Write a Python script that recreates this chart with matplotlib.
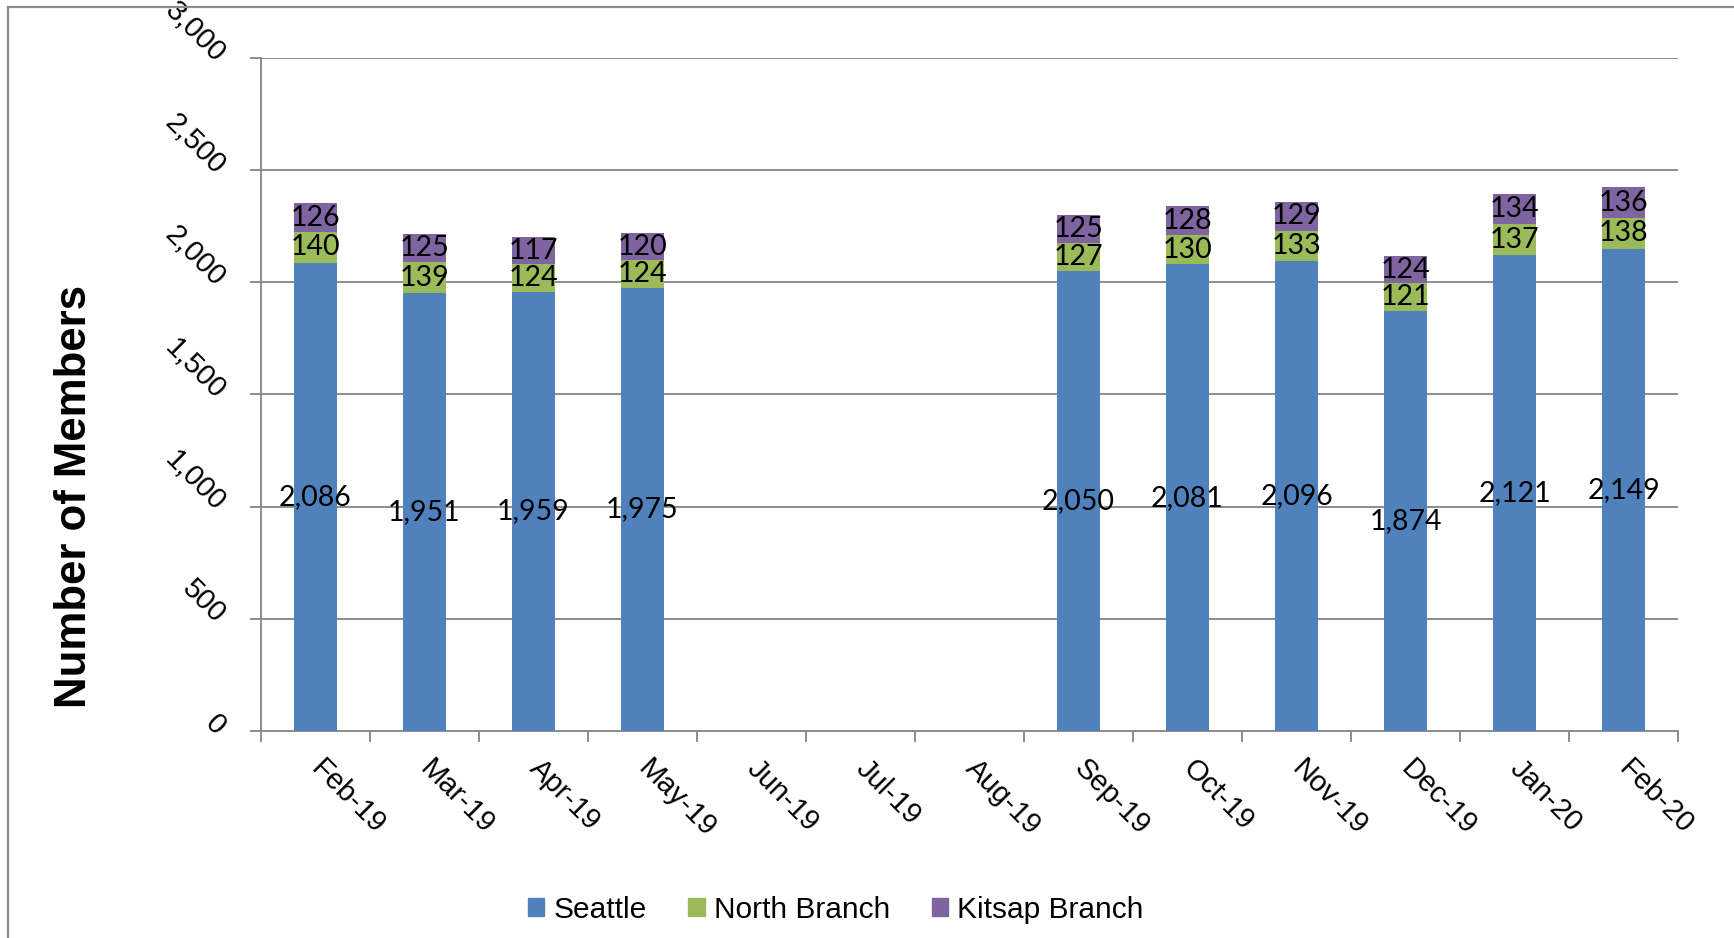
import numpy as np
import matplotlib
matplotlib.use("Agg")
import matplotlib.pyplot as plt
from matplotlib.lines import Line2D

# --- data ---
months = ["Feb-19", "Mar-19", "Apr-19", "May-19", "Jun-19", "Jul-19", "Aug-19",
          "Sep-19", "Oct-19", "Nov-19", "Dec-19", "Jan-20", "Feb-20"]
seattle = [2086, 1951, 1959, 1975, None, None, None, 2050, 2081, 2096, 1874, 2121, 2149]
north = [140, 139, 124, 124, None, None, None, 127, 130, 133, 121, 137, 138]
kitsap = [126, 125, 117, 120, None, None, None, 125, 128, 129, 124, 134, 136]
series_names = ["Seattle", "North Branch", "Kitsap Branch"]
colors = ["#4F81BD", "#9BBB59", "#8064A2"]
y_ticks = [0, 500, 1000, 1500, 2000, 2500, 3000]

grid_col = "#8C8C8C"
tick_font = "Liberation Sans"
label_font = "Lato"

fig = plt.figure(figsize=(17.34, 9.38), dpi=100)
ax = fig.add_axes([261 / 1734, 1 - 731 / 938, (1678 - 261) / 1734, (731 - 58) / 938])

x = np.arange(len(months))
s = np.array([np.nan if v is None else v for v in seattle], dtype=float)
n = np.array([np.nan if v is None else v for v in north], dtype=float)
k = np.array([np.nan if v is None else v for v in kitsap], dtype=float)

w = 0.40
ax.bar(x, s, w, color=colors[0], zorder=3)
ax.bar(x, n, w, bottom=s, color=colors[1], zorder=3)
ax.bar(x, k, w, bottom=s + n, color=colors[2], zorder=3)

# data labels
for i in range(len(months)):
    if np.isnan(s[i]):
        continue
    ax.text(x[i], s[i] / 2, f"{int(s[i]):,}", ha="center", va="center",
            fontsize=20.5, family=label_font, zorder=4)
    ax.text(x[i], s[i] + n[i] / 2, f"{int(n[i])}", ha="center", va="center",
            fontsize=20.5, family=label_font, zorder=4)
    ax.text(x[i], s[i] + n[i] + k[i] / 2, f"{int(k[i])}", ha="center", va="center",
            fontsize=20.5, family=label_font, zorder=4)

ax.set_xlim(-0.5, len(months) - 0.5)
ax.set_ylim(0, 3000)

# gridlines
ax.set_yticks(y_ticks)
ax.set_yticklabels([f"{v:,}" for v in y_ticks], rotation=-45, ha="right", va="center",
                   rotation_mode="anchor", fontsize=21, family=tick_font)
ax.yaxis.grid(True, color=grid_col, linewidth=1.4, zorder=0)
ax.tick_params(axis="y", length=8, width=1.4, color=grid_col, pad=21)

# x ticks at category boundaries, labels at centres
ax.set_xticks(np.arange(-0.5, len(months), 1.0))
ax.set_xticklabels([])
ax.set_xticks(x, minor=True)
ax.set_xticklabels(months, minor=True, rotation=-45, ha="left", va="center",
                   rotation_mode="anchor", fontsize=21, family=tick_font)
ax.tick_params(axis="x", which="major", length=8, width=1.4, color=grid_col)
ax.tick_params(axis="x", which="minor", length=0, pad=24)

for side in ["top", "right"]:
    ax.spines[side].set_visible(False)
for side in ["left", "bottom"]:
    ax.spines[side].set_color(grid_col)
    ax.spines[side].set_linewidth(1.4)

fig.text(75 / 1734, 1 - 497 / 938, "Number of Members", rotation=90, ha="center",
         va="center", fontsize=31.5, fontweight="bold", family=tick_font)

handles = [plt.Rectangle((0, 0), 1, 1, color=c) for c in colors]
fig.legend(handles, series_names, loc="center", bbox_to_anchor=(0.482, 0.03), ncol=3,
           frameon=False, prop={"family": tick_font, "size": 21.5},
           handlelength=0.55, handleheight=0.55, handletextpad=0.3, columnspacing=1.4)

# outer chart border
fig.add_artist(Line2D([8 / 1734, 8 / 1734], [0, 1 - 7 / 938], transform=fig.transFigure,
                      color=grid_col, linewidth=1.6))
fig.add_artist(Line2D([8 / 1734, 1], [1 - 7 / 938, 1 - 7 / 938], transform=fig.transFigure,
                      color=grid_col, linewidth=1.6))

fig.savefig("out.png", dpi=100)
